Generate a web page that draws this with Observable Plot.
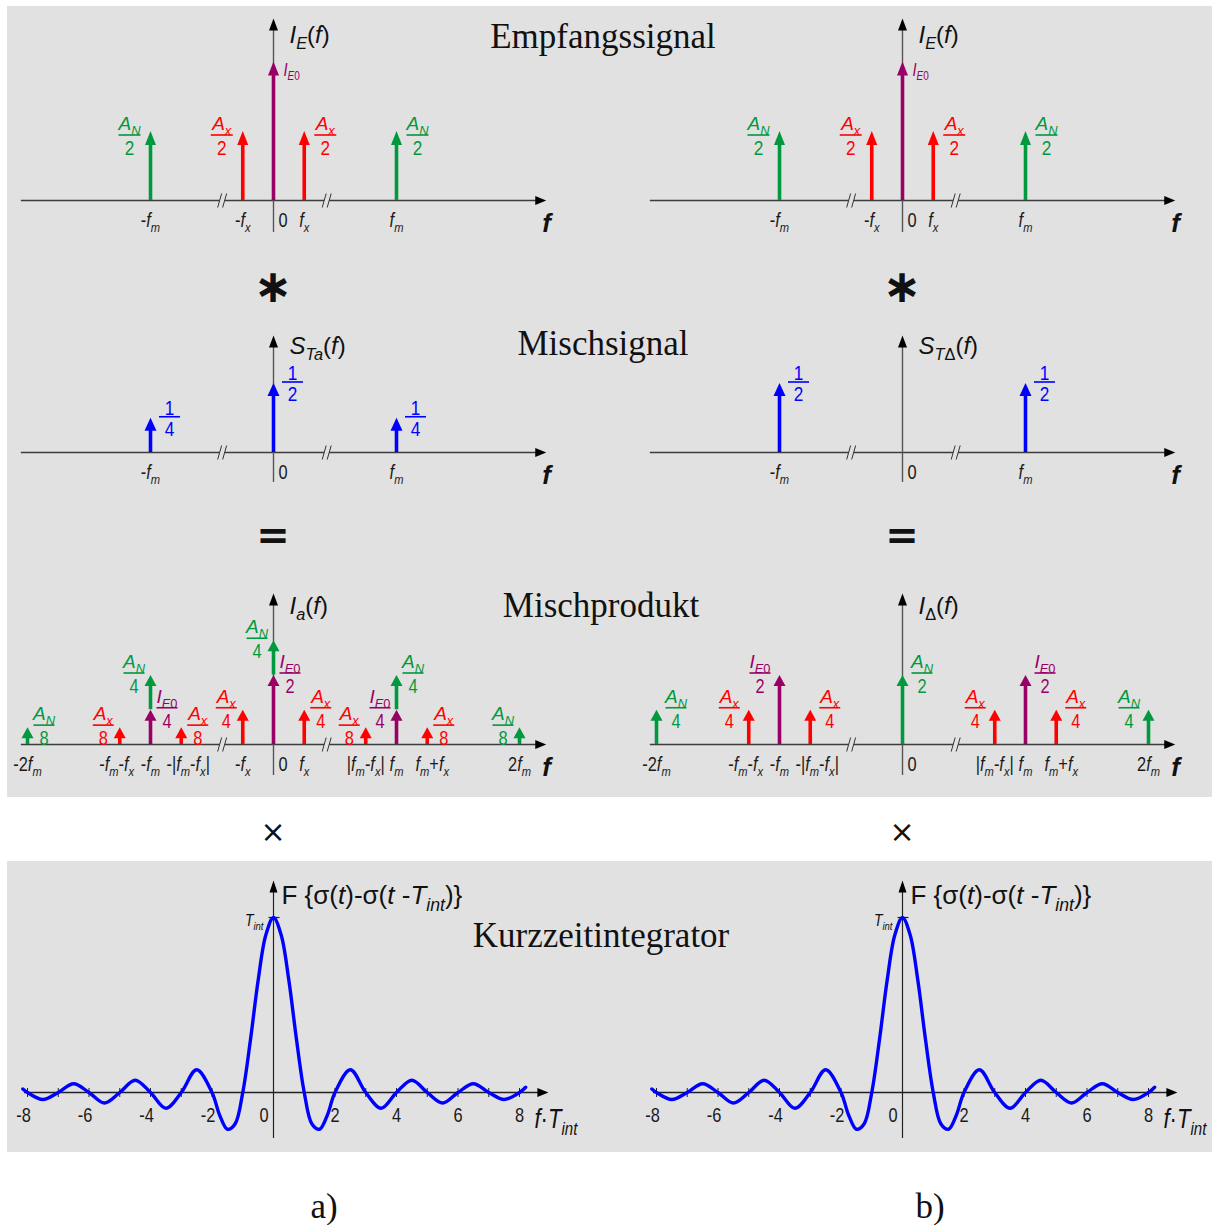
<!DOCTYPE html>
<html>
<head>
<meta charset="utf-8">
<script src="https://cdn.jsdelivr.net/npm/d3@7"></script>
<script src="https://cdn.jsdelivr.net/npm/@observablehq/plot@0.6"></script>
<style>
  html, body { margin: 0; padding: 0; background: #fff; }
  #page { position: relative; width: 1214px; height: 1225px; overflow: hidden; }
  .panel { position: absolute; background: #e1e1e1; }
  .note { position: absolute; white-space: nowrap; line-height: 1; color: #111; transform: translateX(-50%); }
</style>
</head>
<body>
<div id="page"></div>
<script>
// ---------------------------------------------------------------------------
// Frequency positions are given in units of f_x, with f_m = 4 f_x.
// Amplitudes are given relative to I_E0 = A_N = A_x = 1.
// Line components: N = Störsignal A_N, x = Messsignal A_x, E0 = Gleichanteil I_E0,
// T = Mischsignal.
// ---------------------------------------------------------------------------

// Empfangssignal I_E(f)
const receivedLines = [
  {f: -4, comp: "N",  amp: 0.5, num: "A_[N]",  den: "2", side: "left"},
  {f: -1, comp: "x",  amp: 0.5, num: "A_[x]",  den: "2", side: "left"},
  {f:  0, comp: "E0", amp: 1,   num: "I_[E0]", den: null, side: "right"},
  {f:  1, comp: "x",  amp: 0.5, num: "A_[x]",  den: "2", side: "right"},
  {f:  4, comp: "N",  amp: 0.5, num: "A_[N]",  den: "2", side: "right"}
];
const receivedTicks = [
  {f: -4, label: "-f_[m]"}, {f: -1, label: "-f_[x]"}, {f: 0, label: "0"},
  {f: 1, label: "f_[x]"}, {f: 4, label: "f_[m]"}
];

// Mischsignal S_Ta(f) and S_TΔ(f)
const mixLinesA = [
  {f: -4, comp: "T", amp: 0.25, num: "1", den: "4", side: "right"},
  {f:  0, comp: "T", amp: 0.5,  num: "1", den: "2", side: "right"},
  {f:  4, comp: "T", amp: 0.25, num: "1", den: "4", side: "right"}
];
const mixLinesDelta = [
  {f: -4, comp: "T", amp: 0.5, num: "1", den: "2", side: "right"},
  {f:  4, comp: "T", amp: 0.5, num: "1", den: "2", side: "right"}
];
const mixTicks = [{f: -4, label: "-f_[m]"}, {f: 0, label: "0"}, {f: 4, label: "f_[m]"}];

// Mischprodukt I_a(f): lines at the same frequency are stacked in the listed order
const productLinesA = [
  {f: -8, comp: "N",  amp: 0.125, num: "A_[N]",  den: "8", side: "right"},
  {f: -5, comp: "x",  amp: 0.125, num: "A_[x]",  den: "8", side: "left"},
  {f: -4, comp: "E0", amp: 0.25,  num: "I_[E0]", den: "4", side: "right"},
  {f: -4, comp: "N",  amp: 0.25,  num: "A_[N]",  den: "4", side: "left"},
  {f: -3, comp: "x",  amp: 0.125, num: "A_[x]",  den: "8", side: "right"},
  {f: -1, comp: "x",  amp: 0.25,  num: "A_[x]",  den: "4", side: "left"},
  {f:  0, comp: "E0", amp: 0.5,   num: "I_[E0]", den: "2", side: "right"},
  {f:  0, comp: "N",  amp: 0.25,  num: "A_[N]",  den: "4", side: "left"},
  {f:  1, comp: "x",  amp: 0.25,  num: "A_[x]",  den: "4", side: "right"},
  {f:  3, comp: "x",  amp: 0.125, num: "A_[x]",  den: "8", side: "left"},
  {f:  4, comp: "E0", amp: 0.25,  num: "I_[E0]", den: "4", side: "left"},
  {f:  4, comp: "N",  amp: 0.25,  num: "A_[N]",  den: "4", side: "right"},
  {f:  5, comp: "x",  amp: 0.125, num: "A_[x]",  den: "8", side: "right"},
  {f:  8, comp: "N",  amp: 0.125, num: "A_[N]",  den: "8", side: "left"}
];
const productTicksA = [
  {f: -8, label: "-2f_[m]"}, {f: -5, label: "-f_[m]-f_[x]"}, {f: -4, label: "-f_[m]"},
  {f: -3, label: "-|f_[m]-f_[x]|"}, {f: -1, label: "-f_[x]"}, {f: 0, label: "0"},
  {f: 1, label: "f_[x]"}, {f: 3, label: "|f_[m]-f_[x]|"}, {f: 4, label: "f_[m]"},
  {f: 5, label: "f_[m]+f_[x]"}, {f: 8, label: "2f_[m]"}
];

// Mischprodukt I_Δ(f)
const productLinesDelta = [
  {f: -8, comp: "N",  amp: 0.25, num: "A_[N]",  den: "4", side: "right"},
  {f: -5, comp: "x",  amp: 0.25, num: "A_[x]",  den: "4", side: "left"},
  {f: -4, comp: "E0", amp: 0.5,  num: "I_[E0]", den: "2", side: "left"},
  {f: -3, comp: "x",  amp: 0.25, num: "A_[x]",  den: "4", side: "right"},
  {f:  0, comp: "N",  amp: 0.5,  num: "A_[N]",  den: "2", side: "right"},
  {f:  3, comp: "x",  amp: 0.25, num: "A_[x]",  den: "4", side: "left"},
  {f:  4, comp: "E0", amp: 0.5,  num: "I_[E0]", den: "2", side: "right"},
  {f:  5, comp: "x",  amp: 0.25, num: "A_[x]",  den: "4", side: "right"},
  {f:  8, comp: "N",  amp: 0.25, num: "A_[N]",  den: "4", side: "left"}
];
const productTicksDelta = [
  {f: -8, label: "-2f_[m]"}, {f: -5, label: "-f_[m]-f_[x]"}, {f: -4, label: "-f_[m]"},
  {f: -3, label: "-|f_[m]-f_[x]|"}, {f: 0, label: "0"}, {f: 3, label: "|f_[m]-f_[x]|"},
  {f: 4, label: "f_[m]"}, {f: 5, label: "f_[m]+f_[x]"}, {f: 8, label: "2f_[m]"}
];

// Kurzzeitintegrator: F{σ(t)-σ(t-T_int)} over f·T_int, relative to T_int
const sincPoints = [
  {ft: -8.15, v: 0.02}, {ft: -8, v: 0}, {ft: -7.5, v: -0.04}, {ft: -7, v: 0},
  {ft: -6.5, v: 0.05}, {ft: -6, v: 0}, {ft: -5.5, v: -0.06}, {ft: -5, v: 0},
  {ft: -4.5, v: 0.07}, {ft: -4, v: 0}, {ft: -3.5, v: -0.09}, {ft: -3, v: 0},
  {ft: -2.5, v: 0.13}, {ft: -2, v: 0}, {ft: -1.75, v: -0.13}, {ft: -1.5, v: -0.21},
  {ft: -1.25, v: -0.18}, {ft: -1, v: 0}, {ft: -0.75, v: 0.30}, {ft: -0.5, v: 0.64},
  {ft: -0.25, v: 0.90}, {ft: 0, v: 1},
  {ft: 0.25, v: 0.90}, {ft: 0.5, v: 0.64}, {ft: 0.75, v: 0.30}, {ft: 1, v: 0},
  {ft: 1.25, v: -0.18}, {ft: 1.5, v: -0.21}, {ft: 1.75, v: -0.13}, {ft: 2, v: 0},
  {ft: 2.5, v: 0.13}, {ft: 3, v: 0}, {ft: 3.5, v: -0.09}, {ft: 4, v: 0},
  {ft: 4.5, v: 0.07}, {ft: 5, v: 0}, {ft: 5.5, v: -0.06}, {ft: 6, v: 0},
  {ft: 6.5, v: 0.05}, {ft: 7, v: 0}, {ft: 7.5, v: -0.04}, {ft: 8, v: 0},
  {ft: 8.2, v: 0.03}
];
const sincTicks = [-8, -7, -6, -5, -4, -3, -2, -1, 1, 2, 3, 4, 5, 6, 7, 8];
const sincTickLabels = [-8, -6, -4, -2, 0, 2, 4, 6, 8];

// ---------------------------------------------------------------------------
// Drawing setup
// ---------------------------------------------------------------------------
const PX = 30.75;       // pixels per f_x unit (and per unit of f·T_int)
const ORIGIN = 273;     // horizontal pixel position of f = 0 inside every chart
const PPU = 139;        // pixels per amplitude unit of the spectra
const SINC_PPU = 175;   // pixels per T_int in the integrator plot
const X_AXIS = [-8.2, 8.87];
const BREAKS = [-1.67, 1.73];
const BG = "#e1e1e1";
const COLORS = {N: "#00993d", x: "#ff0000", E0: "#990066", T: "#0000ff"};
const NARROW = "'Liberation Sans Narrow','Liberation Sans',Arial,sans-serif";
const NARROW_SCALE = 0.82;   // horizontal squeeze for the condensed label face
const SANS = "'Liberation Sans',Arial,sans-serif";
const TICK_NUDGE = {"-f_[m]-f_[x]": -3, "-|f_[m]-f_[x]|": 7, "f_[m]+f_[x]": 5};

const page = document.getElementById("page");
const svgNS = "http://www.w3.org/2000/svg";

// Marker shapes drawn by Plot.dot
const arrowUp = (w, l) => ({draw(c) { c.moveTo(0, 0); c.lineTo(w / 2, l); c.lineTo(-w / 2, l); c.closePath(); }});
const arrowRight = (w, l) => ({draw(c) { c.moveTo(0, 0); c.lineTo(-l, -w / 2); c.lineTo(-l, w / 2); c.closePath(); }});
const hBar = (x0, x1, t) => ({draw(c) { c.moveTo(x0, -t / 2); c.lineTo(x1, -t / 2); c.lineTo(x1, t / 2); c.lineTo(x0, t / 2); c.closePath(); }});
const vTick = (h) => ({draw(c) { c.moveTo(0, -h); c.lineTo(0, h); }});
const breakGap = {draw(c) { c.moveTo(-4.5, 7); c.lineTo(-0.5, -7); c.lineTo(4.5, -7); c.lineTo(0.5, 7); c.closePath(); }};
const breakLines = {draw(c) { c.moveTo(-4.5, 7); c.lineTo(-0.5, -7); c.moveTo(0.5, 7); c.lineTo(4.5, -7); }};

// Stack lines sharing a frequency on top of each other
function stack(lines) {
  const acc = new Map();
  return lines.map(d => {
    const base = acc.get(d.f) ?? 0;
    acc.set(d.f, base + d.amp);
    return {...d, base, top: base + d.amp};
  });
}

// "A_[N]" -> A with subscript N; latin letters italic unless preceded by "!"
function parseRich(s) {
  const segs = [];
  const push = (str, sub) => {
    let upright = false;
    for (const ch of str) {
      if (ch === "!") { upright = true; continue; }
      const italic = /[A-Za-z]/.test(ch) && !upright;
      upright = false;
      const last = segs[segs.length - 1];
      if (last && last.sub === sub && last.italic === italic) last.text += ch;
      else segs.push({text: ch, sub, italic});
    }
  };
  let i = 0;
  while (i < s.length) {
    const j = s.indexOf("_[", i);
    if (j < 0) { push(s.slice(i), false); break; }
    push(s.slice(i, j), false);
    const k = s.indexOf("]", j);
    push(s.slice(j + 2, k), true);
    i = k + 1;
  }
  return segs;
}

// squeeze a label horizontally about its anchor
function condense(textEl, s) {
  const x = textEl.getAttribute("x"), y = textEl.getAttribute("y");
  let tr = textEl.getAttribute("transform") || "";
  if (x !== null || y !== null) {
    tr += ` translate(${x ?? 0},${y ?? 0})`;
    textEl.removeAttribute("x");
    textEl.removeAttribute("y");
  }
  textEl.setAttribute("transform", `${tr} scale(${s},1)`.trim());
}

function richify(textEl) {
  const family = textEl.closest("[font-family]")?.getAttribute("font-family") || "";
  if (family.includes("Narrow")) condense(textEl, NARROW_SCALE);
  const raw = textEl.textContent;
  if (!/[A-Za-z_!]/.test(raw)) return;
  const fs = parseFloat(getComputedStyle(textEl).fontSize);
  const subFs = fs * 0.68, shift = fs * 0.27;
  textEl.textContent = "";
  let cur = 0;
  for (const seg of parseRich(raw)) {
    const t = document.createElementNS(svgNS, "tspan");
    t.textContent = seg.text;
    if (seg.italic) t.setAttribute("font-style", "italic");
    if (seg.sub) t.setAttribute("font-size", subFs.toFixed(2));
    const target = seg.sub ? shift : 0;
    if (target !== cur) { t.setAttribute("dy", (target - cur).toFixed(2)); cur = target; }
    textEl.appendChild(t);
  }
}

function mount(svg, left, top) {
  svg.style.position = "absolute";
  svg.style.left = left + "px";
  svg.style.top = top + "px";
  page.appendChild(svg);
  svg.querySelectorAll("text").forEach(richify);
}

function baseOptions(width, height, yDomain) {
  return {
    width, height, margin: 0,
    x: {domain: [-ORIGIN / PX, (width - ORIGIN) / PX], range: [0, width], axis: null},
    y: {domain: yDomain, range: [height, 0], axis: null},
    color: {type: "identity"},
    style: {background: "transparent", overflow: "visible", fontFamily: SANS}
  };
}

// One spectrum (frequency axis, amplitude axis, arrows, fraction labels, tick labels)
function spectrumChart(cfg) {
  const {lines, ticks, name, width, height, baseline, axisTop, axisBottom, nameBaseline, head, frac} = cfg;
  const data = stack(lines);
  const [hw, hl] = head;
  const color = d => COLORS[d.comp];
  const zero = () => 0;
  const yTop = (baseline - axisTop) / PPU;
  const marks = [
    Plot.ruleY([{y: 0, x1: X_AXIS[0], x2: X_AXIS[1] - 9 / PX}], {y: "y", x1: "x1", x2: "x2", stroke: "#3c3c3c", strokeWidth: 1.4}),
    Plot.dot([X_AXIS[1]], {x: d => d, y: zero, symbol: arrowRight(9, 11), fill: "#000", stroke: "none"}),
    Plot.dot(BREAKS, {x: d => d, y: zero, symbol: breakGap, fill: BG, stroke: "none"}),
    Plot.dot(BREAKS, {x: d => d, y: zero, symbol: breakLines, fill: "none", stroke: "#333", strokeWidth: 1}),
    Plot.ruleX([{x: 0, y1: -(axisBottom - baseline) / PPU, y2: yTop - 10 / PPU}], {x: "x", y1: "y1", y2: "y2", stroke: "#555", strokeWidth: 1.4}),
    Plot.dot([0], {x: d => d, y: () => yTop, symbol: arrowUp(9, 12), fill: "#000", stroke: "none"}),
    Plot.ruleX(data, {x: "f", y1: "base", y2: d => d.top - (hl - 2) / PPU, stroke: color, strokeWidth: 3.6}),
    Plot.dot(data, {x: "f", y: "top", symbol: arrowUp(hw, hl), fill: color, stroke: "none"})
  ];
  // fraction labels beside the arrow tips
  const isDigit = d => /^\d+$/.test(d.num);
  for (const side of ["left", "right"]) {
    const off = (side === "left" ? -1 : 1) * frac.off;
    const fr = data.filter(d => d.den && d.side === side);
    const numOpts = {x: "f", y: "top", text: "num", fill: color, dx: off, dy: frac.bar - frac.numGap, lineAnchor: "bottom", textAnchor: "middle"};
    marks.push(
      Plot.text(fr.filter(d => !isDigit(d)), {...numOpts, fontSize: frac.numSize, fontFamily: SANS}),
      Plot.text(fr.filter(isDigit), {...numOpts, dy: frac.bar - 2, fontSize: frac.denSize, fontFamily: NARROW}),
      Plot.dot(fr, {x: "f", y: "top", symbol: hBar(-frac.w / 2, frac.w / 2, 1.6), fill: color, stroke: "none", dx: off, dy: frac.bar}),
      Plot.text(fr, {x: "f", y: "top", text: "den", fill: color, dx: off, dy: frac.bar + frac.denGap,
        lineAnchor: "bottom", textAnchor: "middle", fontSize: frac.denSize, fontFamily: NARROW})
    );
  }
  // plain label at the tip of the DC line
  marks.push(Plot.text(data.filter(d => !d.den), {x: "f", y: "top", text: "num", fill: color, dx: 10, dy: 14,
    lineAnchor: "bottom", textAnchor: "start", fontSize: 18, fontFamily: NARROW}));
  // tick labels
  const tickOpts = {x: "f", y: zero, text: "label", dy: 26, lineAnchor: "bottom", fontSize: 20, fontFamily: NARROW, fill: "#1a1a1a"};
  const groups = d3.group(ticks.filter(t => t.f !== 0), t => TICK_NUDGE[t.label] ?? 0);
  for (const [dx, g] of groups) marks.push(Plot.text(g, {...tickOpts, dx, textAnchor: "middle"}));
  marks.push(Plot.text(ticks.filter(t => t.f === 0), {...tickOpts, dx: 5, textAnchor: "start"}));
  // axis names
  marks.push(Plot.text([name], {x: zero, y: () => (baseline - nameBaseline) / PPU, text: d => d, dx: 16,
    lineAnchor: "bottom", textAnchor: "start", fontSize: 24, fontFamily: SANS, fill: "#111"}));
  marks.push(Plot.text(["f"], {x: () => X_AXIS[1], y: zero, text: d => d, dx: -4, dy: 31,
    lineAnchor: "bottom", textAnchor: "start", fontSize: 26, fontWeight: "bold", fontFamily: SANS, fill: "#111"}));
  const opts = baseOptions(width, height, [-(height - baseline) / PPU, baseline / PPU]);
  return Plot.plot({...opts, marks});
}

// Kurzzeitintegrator spectrum
function sincChart(width) {
  const height = 290, baseline = 230;
  const zero = () => 0;
  const yTop = (baseline - 18) / SINC_PPU;
  const tickText = {y: zero, dy: 29, lineAnchor: "bottom", fontSize: 20, fontFamily: NARROW, fill: "#1a1a1a"};
  const marks = [
    Plot.ruleY([{y: 0, x1: -8.1, x2: 8.94 - 9 / PX}], {y: "y", x1: "x1", x2: "x2", stroke: "#222", strokeWidth: 1.3}),
    Plot.dot([8.94], {x: d => d, y: zero, symbol: arrowRight(9, 11), fill: "#000", stroke: "none"}),
    Plot.dot(sincTicks, {x: d => d, y: zero, symbol: vTick(4.5), fill: "none", stroke: "#222", strokeWidth: 1}),
    Plot.ruleX([{x: 0, y1: -46 / SINC_PPU, y2: yTop - 10 / SINC_PPU}], {x: "x", y1: "y1", y2: "y2", stroke: "#222", strokeWidth: 1.2}),
    Plot.dot([0], {x: d => d, y: () => yTop, symbol: arrowUp(8, 12), fill: "#000", stroke: "none"}),
    Plot.dot([1], {x: zero, y: d => d, symbol: hBar(-5, 6, 1.2), fill: "#222", stroke: "none"}),
    Plot.line(sincPoints, {x: "ft", y: "v", curve: "catmull-rom", stroke: COLORS.T, strokeWidth: 3.4}),
    Plot.text(sincTickLabels.filter(d => d > 0), {...tickText, x: d => d, text: d => String(d), textAnchor: "middle"}),
    Plot.text(sincTickLabels.filter(d => d < 0), {...tickText, x: d => d, text: d => String(d), dx: -4, textAnchor: "middle"}),
    Plot.text([0], {...tickText, x: d => d, text: d => String(d), dx: -5, textAnchor: "end"}),
    Plot.text(["T_[int]"], {x: zero, y: () => 1, text: d => d, dx: -10, dy: 8, lineAnchor: "bottom", textAnchor: "end", fontSize: 17, fontFamily: NARROW, fill: "#111"}),
    Plot.text(["!F {σ(t)-σ(t -T_[int])}"], {x: zero, y: () => (baseline - 41) / SINC_PPU, text: d => d, dx: 8, lineAnchor: "bottom", textAnchor: "start", fontSize: 26, fontFamily: SANS, fill: "#111"}),
    Plot.text(["f·T_[int]"], {x: () => 8.94, y: zero, text: d => d, dx: -14, dy: 35, lineAnchor: "bottom", textAnchor: "start", fontSize: 27, fontFamily: NARROW, fill: "#111"})
  ];
  const opts = baseOptions(width, height, [-(height - baseline) / SINC_PPU, baseline / SINC_PPU]);
  return Plot.plot({...opts, marks});
}

// ---------------------------------------------------------------------------
// Page layout
// ---------------------------------------------------------------------------
function panel(l, t, w, h) {
  const d = document.createElement("div");
  d.className = "panel";
  Object.assign(d.style, {left: l + "px", top: t + "px", width: w + "px", height: h + "px"});
  page.appendChild(d);
}
// place a line of text by its baseline (k = baseline offset of the font within a 1em line box)
function note(text, x, baseline, size, font, k, extra = {}) {
  const d = document.createElement("div");
  d.className = "note";
  d.textContent = text;
  Object.assign(d.style, {left: x + "px", top: (baseline - size * k) + "px", fontSize: size + "px", fontFamily: font}, extra);
  page.appendChild(d);
}

panel(7, 6, 1205, 791);
panel(7, 861, 1205, 291);

const SERIF = "'Liberation Serif','Times New Roman',serif";
note("Empfangssignal", 603, 48, 35, SERIF, 0.8375);
note("Mischsignal", 603, 355, 35, SERIF, 0.8375);
note("Mischprodukt", 601, 617, 35, SERIF, 0.8375);
note("Kurzzeitintegrator", 601, 947, 35, SERIF, 0.8375);

const LEFT = 0, RIGHT = 629;
const row1 = {height: 250, baseline: 200, axisTop: 18, axisBottom: 232, nameBaseline: 42, head: [11, 14],
  frac: {off: 21, bar: 4, numGap: 5, denGap: 20, w: 22, numSize: 19, denSize: 21}};
const row2 = {height: 200, baseline: 152, axisTop: 35, axisBottom: 182, nameBaseline: 53, head: [12, 13],
  frac: {off: 19, bar: -1, numGap: 5, denGap: 19, w: 21, numSize: 19, denSize: 21}};
const row3 = {height: 230, baseline: 184, axisTop: 33, axisBottom: 215, nameBaseline: 53, head: [12, 11],
  frac: {off: 16.5, bar: -2, numGap: 5, denGap: 20, w: 21, numSize: 19, denSize: 20}};
const row3d = {...row3, frac: {...row3.frac, off: 19.5}};

mount(spectrumChart({...row1, lines: receivedLines, ticks: receivedTicks, name: "I_[E](f)", width: 600}), LEFT, 0);
mount(spectrumChart({...row1, lines: receivedLines, ticks: receivedTicks, name: "I_[E](f)", width: 585}), RIGHT, 0);
mount(spectrumChart({...row2, lines: mixLinesA, ticks: mixTicks, name: "S_[Ta](f)", width: 600}), LEFT, 300);
mount(spectrumChart({...row2, lines: mixLinesDelta, ticks: mixTicks, name: "S_[TΔ](f)", width: 585}), RIGHT, 300);
mount(spectrumChart({...row3, lines: productLinesA, ticks: productTicksA, name: "I_[a](f)", width: 600}), LEFT, 560);
mount(spectrumChart({...row3d, lines: productLinesDelta, ticks: productTicksDelta, name: "I_[Δ](f)", width: 585}), RIGHT, 560);
mount(sincChart(600), LEFT, 862);
mount(sincChart(585), RIGHT, 862);

// operators between the rows
for (const x of [273, 902]) {
  note("∗", x, 302, 46, "'DejaVu Sans',sans-serif", 0.846, {fontWeight: "bold"});
  note("=", x, 549, 40, "'DejaVu Sans',sans-serif", 0.846, {fontWeight: "bold"});
  note("×", x, 842, 30, "'DejaVu Sans',sans-serif", 0.846);
}
note("a)", 324, 1218, 35, SERIF, 0.8375);
note("b)", 930, 1218, 35, SERIF, 0.8375);
</script>
</body>
</html>
